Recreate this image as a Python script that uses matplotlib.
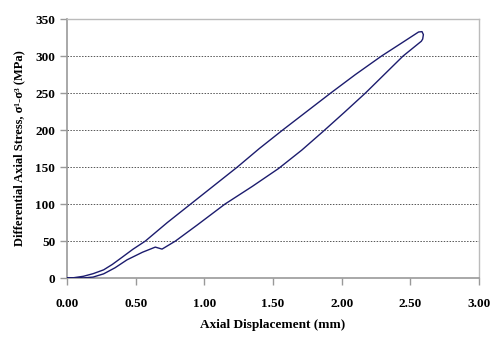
import matplotlib
matplotlib.use("Agg")
import matplotlib.pyplot as plt

# Axial displacement (mm) and differential stress (MPa) along the loop:
# first the lower branch up to peak, then the upper branch back to zero
disp = [0.00, 0.05, 0.12, 0.19, 0.267, 0.35, 0.437, 0.55, 0.643, 0.692,
        0.789, 0.95, 1.15, 1.35, 1.54, 1.71, 1.864, 2.02, 2.173, 2.31,
        2.447, 2.58, 2.59, 2.595, 2.585, 2.56, 2.44, 2.29, 2.10, 1.92,
        1.745, 1.57, 1.40, 1.24, 1.07, 0.90, 0.73, 0.57, 0.48, 0.40,
        0.33, 0.267, 0.19, 0.12, 0.05, 0.00]
stress = [0.0, 0.0, 0.3, 1.4, 5.8, 14.0, 24.7, 35.0, 41.9, 39.2,
          50.0, 72.0, 100.0, 124.0, 148.0, 173.0, 198.0, 224.0, 250.0, 275.0,
          300.0, 320.0, 323.0, 329.0, 333.0, 332.5, 318.0, 300.0, 275.0, 250.0,
          225.0, 200.0, 175.0, 150.0, 125.0, 100.0, 75.0, 50.0, 39.0, 28.0,
          18.5, 11.2, 6.0, 2.5, 0.6, 0.0]

x_ticks = [0.0, 0.5, 1.0, 1.5, 2.0, 2.5, 3.0]
y_ticks = [0, 50, 100, 150, 200, 250, 300, 350]

plt.rcParams['font.family'] = ['Liberation Serif', 'DejaVu Serif']

fig = plt.figure(figsize=(5.0, 3.4), dpi=100)
ax = fig.add_axes([0.134, 0.182, 0.824, 0.762])

for yv in y_ticks[1:-1]:
    ax.axhline(yv, color='#555555', linestyle=(0, (1.5, 1.5)), linewidth=0.7, zorder=1)

ax.plot(disp, stress, color='#1c1c6e', linewidth=1.0, zorder=3)

ax.set_xlim(0, 3.0)
ax.set_ylim(0, 350)
ax.set_xticks(x_ticks)
ax.set_xticklabels([f"{v:.2f}" for v in x_ticks])
ax.set_yticks(y_ticks)
ax.set_yticklabels([str(v) for v in y_ticks])

for side in ['left', 'bottom']:
    ax.spines[side].set_color('#999999')
    ax.spines[side].set_linewidth(1.2)
for side in ['top', 'right']:
    ax.spines[side].set_color('#bbbbbb')
    ax.spines[side].set_linewidth(1.0)

ax.tick_params(axis='both', direction='out', length=5, width=1.0,
               color='#999999', labelsize=9.5)
ax.tick_params(axis='x', pad=9)
ax.tick_params(axis='y', pad=3.5)
for lbl in ax.get_xticklabels() + ax.get_yticklabels():
    lbl.set_fontweight('bold')

ax.set_xlabel('Axial Displacement (mm)', fontsize=9.5, fontweight='bold', labelpad=7)
ax.set_ylabel('Differential Axial Stress, σ¹-σ³ (MPa)', fontsize=9,
              fontweight='bold', labelpad=7)

fig.savefig('out.png', dpi=100)
